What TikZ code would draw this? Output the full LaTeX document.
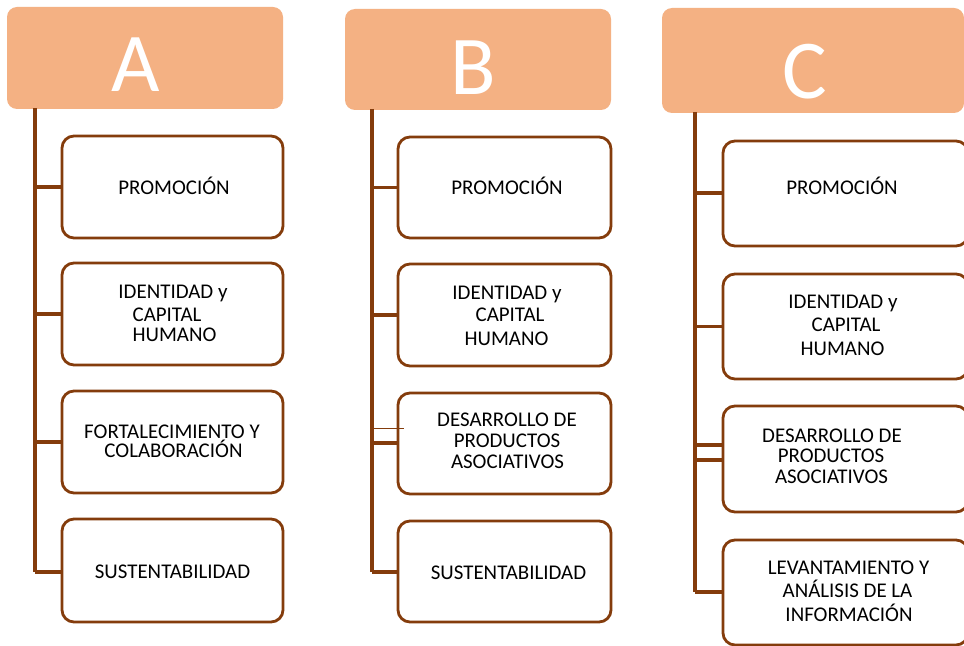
\documentclass[tikz,border=0pt]{standalone}
\usepackage{fontspec}
\setmainfont{Carlito}
\definecolor{hdrfill}{HTML}{F4B183}
\definecolor{brn}{HTML}{843C0C}
\begin{document}
\begin{tikzpicture}[x=1bp,y=-1bp,
  hdr/.style={fill=hdrfill,draw=none,rounded corners=10bp,inner sep=0},
  ltr/.style={text=white,font=\fontsize{84}{84}\selectfont,inner sep=0},
  itembox/.style={draw=brn,line width=2.8bp,rounded corners=12bp,fill=white},
  conn/.style={draw=brn,line width=3.2bp},
  thinconn/.style={draw=brn,line width=1bp},
  txt/.style={font=\fontsize{21}{21}\selectfont,inner sep=0,anchor=base}]
\useasboundingbox (0,0) rectangle (964,646);
\fill[white] (0,0) rectangle (964,646);
% headers
\path[hdr] (7,7) rectangle (283,109); \node[inner sep=0] (hA) at (145,108) {};
\path[hdr] (345,9) rectangle (611,110); \node[inner sep=0] (hB) at (478,109) {};
\path[hdr] (662,8) rectangle (964,113); \node[inner sep=0] (hC) at (813,112) {};
\node[ltr] (lA) at (136,65) {A};
\node[ltr] (lB) at (473,68) {B};
\node[ltr] (lC) at (805,72) {C};
% trunk end coordinates
\coordinate (tA) at (35,572);
\coordinate (tB) at (372,572);
\coordinate (tC) at (695,592);
% boxes
\path[itembox] (62,136) rectangle (283,238); \coordinate (a1) at (62,187);
\path[itembox] (62,263) rectangle (283,365); \coordinate (a2) at (62,314);
\path[itembox] (62,391) rectangle (283,493); \coordinate (a3) at (62,442);
\path[itembox] (62,519) rectangle (283,622); \coordinate (a4) at (62,572);
\path[itembox] (398,137) rectangle (611,238); \coordinate (b1) at (398,187.5);
\path[itembox] (398,264) rectangle (611,366); \coordinate (b2) at (398,315);
\path[itembox] (398,393) rectangle (611,494); \coordinate (b3) at (398,443);
\path[itembox] (398,521) rectangle (611,622); \coordinate (b4) at (398,572);
\coordinate (b3x) at (404,428);
\path[itembox] (723,141) rectangle (968,246); \coordinate (c1) at (723,193);
\path[itembox] (723,274) rectangle (968,379); \coordinate (c2) at (723,326.5);
\path[itembox] (723,406) rectangle (968,512); \coordinate (c3) at (723,460);
\coordinate (c3x) at (723,445);
\path[itembox] (723,540) rectangle (968,645); \coordinate (c4) at (723,592);
% connectors
\draw[conn] (hA.center -| tA) -- (tA);
\draw[conn] (hB.center -| tB) -- (tB);
\draw[conn] (hC.center -| tC) -- (tC);
\foreach \n in {a1,a2,a3,a4} \draw[conn] (\n -| tA) -- (\n);
\foreach \n in {b1,b2,b3,b4} \draw[conn] (\n -| tB) -- (\n);
\foreach \n in {c1,c2,c3,c3x,c4} \draw[conn] (\n -| tC) -- (\n);
\draw[thinconn] (b3x -| tB) -- (b3x);
% texts (base y = visual center + 6.8)
\node[txt] (ta1) at (174,194.8) {PROMOCIÓN};
\node[txt] (ta2a) at (173,298.8) {IDENTIDAD y};
\node[txt] (ta2b) at (167,321.8) {CAPITAL};
\node[txt] (ta2c) at (174.5,341.8) {HUMANO};
\node[txt] (ta3a) at (172,438.8) {FORTALECIMIENTO Y};
\node[txt] (ta3b) at (173.5,457.8) {COLABORACIÓN};
\node[txt] (ta4) at (172.5,578.8) {SUSTENTABILIDAD};
\node[txt] (tb1) at (507,194.8) {PROMOCIÓN};
\node[txt] (tb2a) at (507,299.8) {IDENTIDAD y};
\node[txt] (tb2b) at (510,321.8) {CAPITAL};
\node[txt] (tb2c) at (506.5,345.8) {HUMANO};
\node[txt] (tb3a) at (507,426.8) {DESARROLLO DE};
\node[txt] (tb3b) at (507,447.8) {PRODUCTOS};
\node[txt] (tb3c) at (507.5,468.8) {ASOCIATIVOS};
\node[txt] (tb4) at (508.5,579.8) {SUSTENTABILIDAD};
\node[txt] (tc1) at (842,194.8) {PROMOCIÓN};
\node[txt] (tc2a) at (843,308.8) {IDENTIDAD y};
\node[txt] (tc2b) at (846,331.8) {CAPITAL};
\node[txt] (tc2c) at (842.5,355.8) {HUMANO};
\node[txt] (tc3a) at (832,442.8) {DESARROLLO DE};
\node[txt] (tc3b) at (831,462.8) {PRODUCTOS};
\node[txt] (tc3c) at (831.5,483.8) {ASOCIATIVOS};
\node[txt] (tc4a) at (848.5,574.8) {LEVANTAMIENTO Y};
\node[txt] (tc4b) at (847.5,597.8) {ANÁLISIS DE LA};
\node[txt] (tc4c) at (849,621.8) {INFORMACIÓN};
\end{tikzpicture}
\end{document}
